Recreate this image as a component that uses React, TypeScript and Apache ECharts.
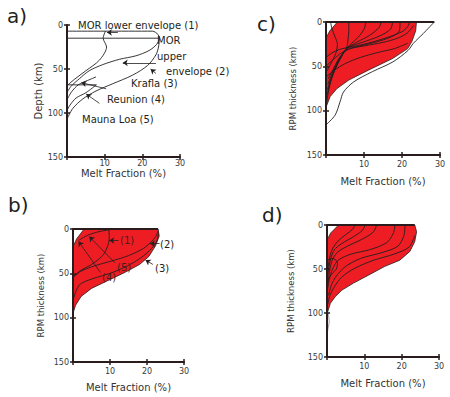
import React, { useEffect, useRef } from 'react';
import * as echarts from 'echarts';

const FONT = '"DejaVu Sans", sans-serif';
const RED = '#ee1d23';
const INK = '#231f20';
const AX = '#2a1c1c';

// ---------- axis values ----------
const X_MIN = 0, X_MAX = 30, X_STEP = 10;
const Y_MIN = 0, Y_MAX = 150, Y_STEP = 50;
const X_TITLE = 'Melt Fraction (%)';
const Y_TITLES = ['Depth (km)', 'RPM thickness (km)', 'RPM thickness (km)', 'RPM thickness (km)'];

// ---------- panel a : [melt %, depth km] ----------
const aUpperEnvelope = [[0, 7], [22.7, 7], [24.2, 11], [24.5, 15], [23.8, 22], [21.8, 29], [18.3, 35], [13.9, 39], [9.5, 45], [5.9, 52], [3.3, 61], [1, 70], [0, 77]];
const aUpperTop = [[0, 15], [24.5, 15]];
const aKrafla = [[24.5, 15], [24.3, 25], [23.6, 34], [21.4, 46], [17.4, 57], [12, 67], [7.7, 75], [4.2, 84], [1.5, 95], [0, 107]];
const aLowerEnvelope = [[10.2, 7], [9.6, 15], [10.5, 25], [8.6, 40], [5, 52], [1.9, 62], [0, 69]];
const aReunion = [[7.7, 59], [5.5, 63], [3, 68], [1.2, 76], [0, 85]];
const aReunionTop = [[0, 68], [7.8, 68]];
const aMaunaLoa = [[7.8, 68], [5, 77], [2.4, 83], [0.8, 91], [0, 97]];
const aArrows = [
  [[13.5, 8.5], [10.6, 8.5]],
  [[23.6, 43], [14.8, 43]],
  [[23.6, 55], [22.2, 50]],
  [[10.4, 72.5], [3.8, 65.5]],
  [[8.6, 89], [5.1, 78.5]],
];

// ---------- panel b ----------
const bMeltRegion = [[3, 0], [23, 0], [23.3, 8], [22.3, 19], [20.5, 31], [18, 40], [14, 49], [9.5, 58], [5, 67], [2.2, 76], [0.7, 86], [0, 95], [0, 20], [1, 11]];
const bTop = [[0, 0], [23, 0]];
const bCurve1 = [[9.7, 0], [9.8, 10], [9.3, 20], [8, 30], [5, 40], [2, 47], [0, 54]];
const bCurve2 = [[23, 2], [22.3, 9], [21, 15], [19, 22], [15, 30], [10.5, 36], [5.5, 42], [2, 48], [0, 55]];
const bCurve3 = [[23.1, 4], [22.5, 15], [20, 27], [16.3, 38], [11, 48.5], [5, 56.5], [2, 62], [0.8, 70], [0.2, 78], [0, 82]];
const bCurve4 = [[1.5, 13], [4, 7], [7, 3], [9.7, 1]];
const bArrows = [
  [[12.3, 13], [9.8, 13]],
  [[23.4, 16.5], [20.8, 16.5]],
  [[21.6, 40], [19.6, 35]],
  [[7.4, 49], [1.5, 14]],
  [[11.3, 38], [4.4, 8.5]],
];

// ---------- panel c ----------
const cMeltRegion = [[3, 0], [23.8, 0], [23.6, 10], [22.6, 22], [21.5, 30], [17.6, 41], [11.3, 54], [6, 65.5], [2.9, 75], [1.1, 84], [0.2, 94], [0, 96], [0, 18], [1, 10]];
const cTop = [[0, 0], [28.5, 0]];
const cOuterEnvelope = [[28.5, 0], [25.6, 13], [23, 24], [21.6, 32], [17.6, 45], [12.2, 56], [7.3, 67.5], [4.6, 79], [3.7, 90], [2.4, 105], [0, 116]];
const cCurves = [
  [[6, 0], [6, 10], [5.8, 20], [5.5, 28], [4.5, 36], [3, 48], [1.8, 60], [0.8, 75], [0.2, 90]],
  [[10.5, 0], [10, 8], [8.5, 17], [6.5, 25], [5, 32], [3.6, 42], [2.2, 55], [1.1, 68], [0.3, 82]],
  [[14.5, 0], [14, 6], [11.5, 15], [8, 23], [5.8, 29], [4.2, 37], [2.6, 50], [1.4, 63], [0.4, 76]],
  [[17.5, 0], [17, 8], [14, 16], [9.5, 23], [6.2, 28], [4.6, 34], [3, 45], [1.6, 58], [0.5, 70]],
  [[19.5, 0], [19.3, 10], [16.5, 18], [11, 25], [6.8, 29], [5, 33], [3.3, 42], [1.8, 54], [0.6, 64]],
  [[1.2, 0], [1.6, 8], [2.4, 17], [3, 25], [2.6, 35], [1.5, 45], [0.3, 55]],
  [[0, 40], [1.5, 35], [3.5, 31], [6, 28.5], [10, 25], [15, 19], [20, 11], [21.5, 5], [22, 0]],
  [[0, 50], [2, 42], [4, 35], [6.5, 30], [10, 27], [15, 23], [19, 18], [21.5, 12], [23, 4]],
  [[0, 62], [2, 55], [5, 47], [9, 40], [14, 34], [18, 30], [21.5, 24]],
];

// ---------- panel d ----------
const dMeltRegion = [[3.1, 0], [23.5, 0], [24, 7.6], [23.5, 19], [22.2, 30], [19.5, 40], [15.5, 47], [11.1, 57], [7.1, 66], [4, 74], [2.2, 81.4], [0.9, 89], [0.2, 98.5], [0, 99], [0, 17], [1, 9]];
const dTop = [[0, 0], [23.5, 0]];
const dTail = [[0.2, 98], [0.6, 110], [0.3, 117], [0, 125]];
const dCurves = [
  [[7.5, 0], [6.8, 5], [5, 11], [3, 18], [1.6, 26], [0.8, 35], [0.3, 48], [0, 58]],
  [[10.2, 0], [9.5, 6], [7.2, 13], [4, 21], [2, 28], [1, 38], [0.5, 48], [0.2, 58]],
  [[13.3, 0], [12.4, 8], [9.5, 16], [5.5, 24], [2.8, 31], [1.4, 40], [0.7, 52], [0.3, 65]],
  [[18.2, 0], [17.8, 9], [16, 20], [11.5, 28], [6.5, 33], [3, 40], [1.5, 50], [0.6, 62], [0.2, 72]],
  [[20.9, 0], [20.6, 12], [19, 24], [15, 31], [9, 38], [5, 47], [2.5, 58], [1.2, 68], [0.4, 80]],
  [[23.5, 12], [22, 25], [18, 33], [12.5, 40], [7.5, 49], [4, 59], [2, 70], [0.8, 80], [0.2, 90]],
  [[0, 40], [1.5, 38], [2.8, 43], [2.5, 50], [1.2, 56], [0.3, 62]],
];

// ---------- layout (pixels) ----------
const GRIDS = [
  { left: 67, top: 25, width: 113, height: 132 },
  { left: 73, top: 229, width: 111, height: 133 },
  { left: 326, top: 22, width: 114, height: 133 },
  { left: 327, top: 225, width: 112, height: 132 },
];
const X_NAME_GAP = [11, 20, 21, 21];
const X_LABEL_MARGIN = [2, 5, 5, 5];
const Y_NAME_GAP = [13, 28, 29, 32];
const Y_NAME_SIZE = [10, 8.5, 8.5, 8.5];

function poly(g: number, pts: number[][], fill: string, stroke: string) {
  return {
    type: 'custom', xAxisIndex: g * 2, yAxisIndex: g * 2, data: pts, silent: true, z: 1,
    renderItem: (params: any, api: any) => {
      if (params.dataIndex !== 0) return null;
      const points = pts.map((p) => api.coord(p));
      return { type: 'polygon', shape: { points }, style: { fill, stroke, lineWidth: 0.8 } };
    },
  };
}

function curve(g: number, pts: number[][], color = INK, width = 0.9, smooth: any = 0.3) {
  return {
    type: 'line', xAxisIndex: g * 2, yAxisIndex: g * 2, data: pts, showSymbol: false, symbol: 'none',
    smooth, silent: true, z: 3, lineStyle: { color, width }, animation: false,
  };
}

function arrows(g: number, list: number[][][]) {
  return {
    type: 'lines', coordinateSystem: 'cartesian2d', xAxisIndex: g * 2, yAxisIndex: g * 2, silent: true, z: 4,
    data: list.map((c) => ({ coords: c })), symbol: ['none', 'arrow'], symbolSize: [0, 5],
    lineStyle: { color: INK, width: 0.8, opacity: 1 },
  };
}

function txt(text: string, x: number, y: number, size = 10, fill = INK) {
  return {
    type: 'text', x, y, z: 20,
    style: { text, fill, font: `${size}px "DejaVu Sans"`, align: 'left', verticalAlign: 'middle', textAlign: 'left', textVerticalAlign: 'middle' },
  };
}

export default function App() {
  const ref = useRef<HTMLDivElement>(null);
  useEffect(() => {
    if (!ref.current) return;
    const chart = echarts.init(ref.current, null, { renderer: 'svg' });
    const xAxis: any[] = [];
    const yAxis: any[] = [];
    GRIDS.forEach((_, i) => {
      xAxis.push({
        gridIndex: i, type: 'value', min: X_MIN, max: X_MAX, interval: X_STEP, position: 'bottom', z: 10,
        axisLine: { onZero: false, lineStyle: { color: AX, width: 2 } },
        axisTick: { length: 3, lineStyle: { color: AX, width: 1.5 } },
        axisLabel: { fontSize: 8, color: '#3a3a3a', fontFamily: FONT, margin: X_LABEL_MARGIN[i], formatter: (v: number) => (v === 0 ? '' : String(v)) },
        splitLine: { show: false },
        name: X_TITLE, nameLocation: 'middle', nameGap: X_NAME_GAP[i],
        nameTextStyle: { fontSize: 10, color: '#333', fontFamily: FONT },
      });
      xAxis.push({
        gridIndex: i, type: 'value', min: X_MIN, max: X_MAX, interval: X_STEP, position: 'bottom', z: 10,
        axisLine: { show: false, onZero: false }, axisTick: { inside: true, length: 3, lineStyle: { color: AX, width: 1.5 } },
        axisLabel: { show: false }, splitLine: { show: false },
      });
      yAxis.push({
        gridIndex: i, type: 'value', min: Y_MIN, max: Y_MAX, interval: Y_STEP, inverse: true, position: 'left', z: 10,
        axisLine: { onZero: false, lineStyle: { color: AX, width: 2 } },
        axisTick: { length: 3, lineStyle: { color: AX, width: 1.5 } },
        axisLabel: { fontSize: 8, color: '#3a3a3a', fontFamily: FONT, margin: 4 },
        splitLine: { show: false },
        name: Y_TITLES[i], nameLocation: 'middle', nameGap: Y_NAME_GAP[i],
        nameTextStyle: { fontSize: Y_NAME_SIZE[i], color: '#333', fontFamily: FONT },
      });
      yAxis.push({
        gridIndex: i, type: 'value', min: Y_MIN, max: Y_MAX, interval: Y_STEP, inverse: true, position: 'left', z: 10,
        axisLine: { show: false, onZero: false }, axisTick: { inside: true, length: 3, lineStyle: { color: AX, width: 1.5 } },
        axisLabel: { show: false }, splitLine: { show: false },
      });
    });

    const series: any[] = [
      // a
      curve(0, aUpperEnvelope), curve(0, aUpperTop, INK, 0.9, false), curve(0, aKrafla),
      curve(0, aLowerEnvelope), curve(0, aReunion), curve(0, aReunionTop, INK, 0.9, false), curve(0, aMaunaLoa),
      arrows(0, aArrows),
      // b
      poly(1, bMeltRegion, RED, INK),
      curve(1, bTop, AX, 2, false), curve(1, bCurve1), curve(1, bCurve2), curve(1, bCurve3), curve(1, bCurve4),
      arrows(1, bArrows),
      // c
      poly(2, cMeltRegion, RED, INK),
      curve(2, cOuterEnvelope), curve(2, cTop, AX, 2, false),
      ...cCurves.map((c) => curve(2, c)),
      // d
      poly(3, dMeltRegion, RED, INK),
      curve(3, dTail, '#888', 0.8), curve(3, dTop, AX, 2, false),
      ...dCurves.map((c) => curve(3, c)),
    ];

    chart.setOption({
      animation: false,
      backgroundColor: '#ffffff',
      grid: GRIDS.map((g) => ({ ...g, containLabel: false })),
      xAxis, yAxis, series,
      graphic: [
        txt('a)', 7, 16, 20), txt('b)', 8, 205, 20), txt('c)', 257, 24, 20), txt('d)', 262, 215, 20),
        txt('MOR lower envelope (1)', 78, 25), txt('MOR', 157, 40), txt('upper', 157, 56),
        txt('envelope (2)', 166, 71), txt('Krafla (3)', 131, 83), txt('Reunion (4)', 107, 99),
        txt('Mauna Loa (5)', 82, 119),
        txt('(1)', 120, 240, 10, '#4a1c1c'), txt('(2)', 160, 244), txt('(3)', 155, 268),
        txt('(5)', 117, 267, 10, '#4a1c1c'), txt('(4)', 102, 277, 10, '#4a1c1c'),
      ],
    });
    return () => chart.dispose();
  }, []);
  return <div ref={ref} style={{ position: 'absolute', left: 0, top: 0, width: 450, height: 397 }} />;
}
